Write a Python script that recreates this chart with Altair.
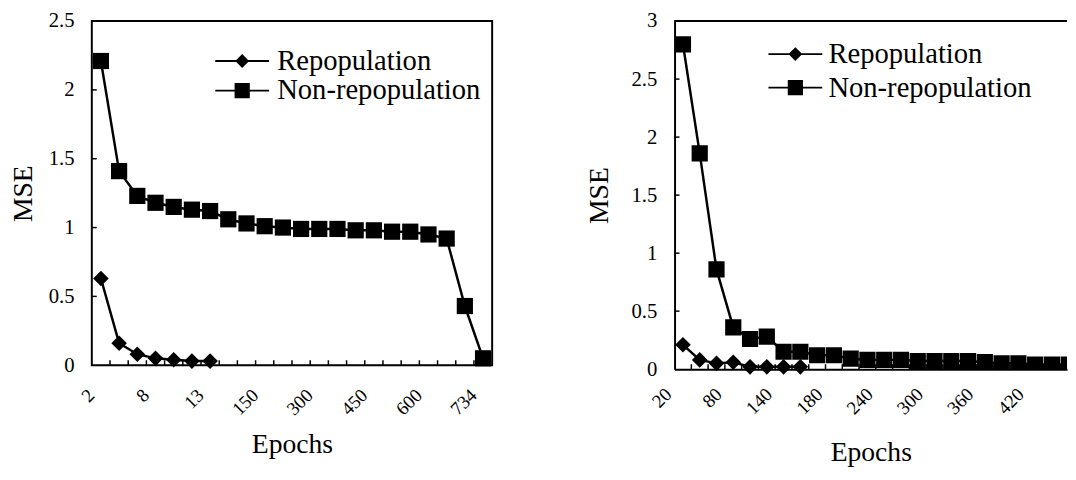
import json
import altair as alt
import pandas as pd

# ---------------- data ----------------
series_names = ["Repopulation", "Non-repopulation"]
label_every = 3

left_epochs = ["2", "4", "6", "8", "10", "12", "13", "50", "100", "150", "200",
               "250", "300", "350", "400", "450", "500", "550", "600", "650", "700", "734"]
left_repop = [0.63, 0.16, 0.08, 0.05, 0.04, 0.03, 0.03]
left_nonrepop = [2.21, 1.41, 1.23, 1.18, 1.15, 1.13, 1.12, 1.06, 1.03, 1.01, 1.00,
                 0.99, 0.99, 0.99, 0.98, 0.98, 0.97, 0.97, 0.95, 0.92, 0.43, 0.05]
left_yticks = [0, 0.5, 1, 1.5, 2, 2.5]

right_epochs = ["20", "40", "60", "80", "100", "120", "140", "160", "170", "180", "200", "220",
                "240", "260", "280", "300", "320", "340", "360", "380", "400", "420", "440", "460"]
right_repop = [0.21, 0.08, 0.05, 0.06, 0.02, 0.02, 0.02, 0.02]
right_nonrepop = [2.80, 1.86, 0.86, 0.36, 0.26, 0.28, 0.15, 0.15, 0.12, 0.12, 0.09, 0.08,
                  0.08, 0.08, 0.07, 0.07, 0.07, 0.07, 0.06, 0.05, 0.05, 0.04, 0.04, 0.04]
right_yticks = [0, 0.5, 1, 1.5, 2, 2.5, 3]
right_visible_end = 22.9   # the original figure is cut off at the right edge

FONT = "Liberation Serif"
DIAMOND_LEGEND = "M-3.9,-0.14H3.9V0.14H-3.9Z M0,-1L1,0L0,1L-1,0Z"
SQUARE_LEGEND = "M-3.9,-0.14H3.9V0.14H-3.9Z M-1.1,-1.1H1.1V1.1H-1.1Z"


def make_panel(epochs, repop, nonrepop, yticks, x_end, width, height, legend_x, legend_y,
               row_pad, label_pad, label_off, y_title_pad, x_title_pad, leg_label_off, closed_box):
    n = len(epochs)
    df = pd.DataFrame(
        [{"idx": i, "mse": v, "series": series_names[0]} for i, v in enumerate(repop)]
        + [{"idx": i, "mse": v, "series": series_names[1]} for i, v in enumerate(nonrepop)]
    )
    tick_df = pd.DataFrame({"b": [i + 0.5 for i in range(n - 1) if i + 0.5 < x_end]})
    ytick_df = pd.DataFrame({"v": yticks[1:]})
    legend_df = pd.DataFrame({"series_l": series_names})

    xscale = alt.Scale(domain=[-0.5, x_end], nice=False, zero=False)
    yscale = alt.Scale(domain=[yticks[0], yticks[-1]], nice=False)
    xaxis = alt.Axis(title="Epochs", values=list(range(0, n, label_every)),
                     labelExpr=json.dumps(epochs) + "[datum.value]",
                     labelAngle=-45, labelAlign="right", labelBaseline="middle",
                     labelFontSize=19, labelPadding=label_pad, labelOffset=label_off,
                     labelOverlap=False, labelFlush=False, labelBound=False, ticks=False, grid=False,
                     domain=not closed_box, domainColor="black", domainWidth=2,
                     titlePadding=x_title_pad)
    yaxis = alt.Axis(title="MSE", values=yticks, format="~g", labelPadding=18,
                     ticks=False, grid=False, domain=not closed_box, domainColor="black",
                     domainWidth=2, titlePadding=y_title_pad)

    def X(field):
        return alt.X(f"{field}:Q", scale=xscale, axis=xaxis)

    def Y(field):
        return alt.Y(f"{field}:Q", scale=yscale, axis=yaxis)

    clip = not closed_box
    lines = alt.Chart(df).mark_line(color="black", strokeWidth=2.5, clip=clip).encode(
        x=X("idx"), y=Y("mse"), detail="series:N", order="idx:Q")
    diamonds = alt.Chart(df).transform_filter(alt.datum.series == series_names[0]).mark_point(
        shape="diamond", filled=True, color="black", opacity=1, size=250).encode(x=X("idx"), y=Y("mse"))
    squares = alt.Chart(df).transform_filter(alt.datum.series == series_names[1]).mark_point(
        shape="square", filled=True, color="black", opacity=1, size=270, clip=clip).encode(
        x=X("idx"), y=Y("mse"))
    xt = alt.Chart(tick_df).mark_rule(color="black", strokeWidth=1.5).encode(
        x=X("b"), y=alt.value(height), y2=alt.value(height - 5))
    yt = alt.Chart(ytick_df).mark_rule(color="black", strokeWidth=1.5).encode(
        y=Y("v"), x=alt.value(0), x2=alt.value(5))
    leg = alt.Chart(legend_df).transform_filter("false").mark_point(
        filled=True, color="black", opacity=1, size=196).encode(
        shape=alt.Shape("series_l:N",
                        scale=alt.Scale(domain=series_names, range=[DIAMOND_LEGEND, SQUARE_LEGEND]),
                        legend=alt.Legend(title=None, orient="none", legendX=legend_x, legendY=legend_y,
                                          labelOffset=leg_label_off, rowPadding=row_pad,
                                          symbolSize=196, labelLimit=0)))
    layers = [lines, diamonds, squares, xt, yt, leg]
    if closed_box:
        return alt.layer(*layers).properties(
            width=width, height=height,
            view=alt.ViewBackground(stroke="black", strokeWidth=2))
    top = alt.Chart(legend_df).mark_rule(color="black", strokeWidth=2).encode(
        x=alt.value(0), x2=alt.value(width), y=alt.value(0))
    return alt.layer(*layers, top).properties(width=width, height=height)


left = make_panel(left_epochs, left_repop, left_nonrepop, left_yticks, len(left_epochs) - 0.5,
                  406, 349, 138, 26, 0, 27, -10, 11, 12, 21, True)
right = make_panel(right_epochs, right_repop, right_nonrepop, right_yticks, right_visible_end,
                   398, 353, 108, 19, 4, 22, -15, 18, 21, 19, False)

chart = (
    alt.hconcat(left, right, spacing=93)
    .resolve_scale(shape="independent", x="independent", y="independent")
    .resolve_legend(shape="independent")
    .properties(padding={"left": 0, "top": -2, "right": 0, "bottom": 0})
    .configure_view(strokeWidth=0)
    .configure_axis(labelFont=FONT, titleFont=FONT, labelFontSize=21, titleFontSize=28,
                    labelColor="black", titleColor="black", titleFontWeight="normal")
    .configure_legend(labelFont=FONT, labelFontSize=29, labelColor="black")
)

chart.save("out.html", embed_options={"renderer": "svg", "actions": False})
